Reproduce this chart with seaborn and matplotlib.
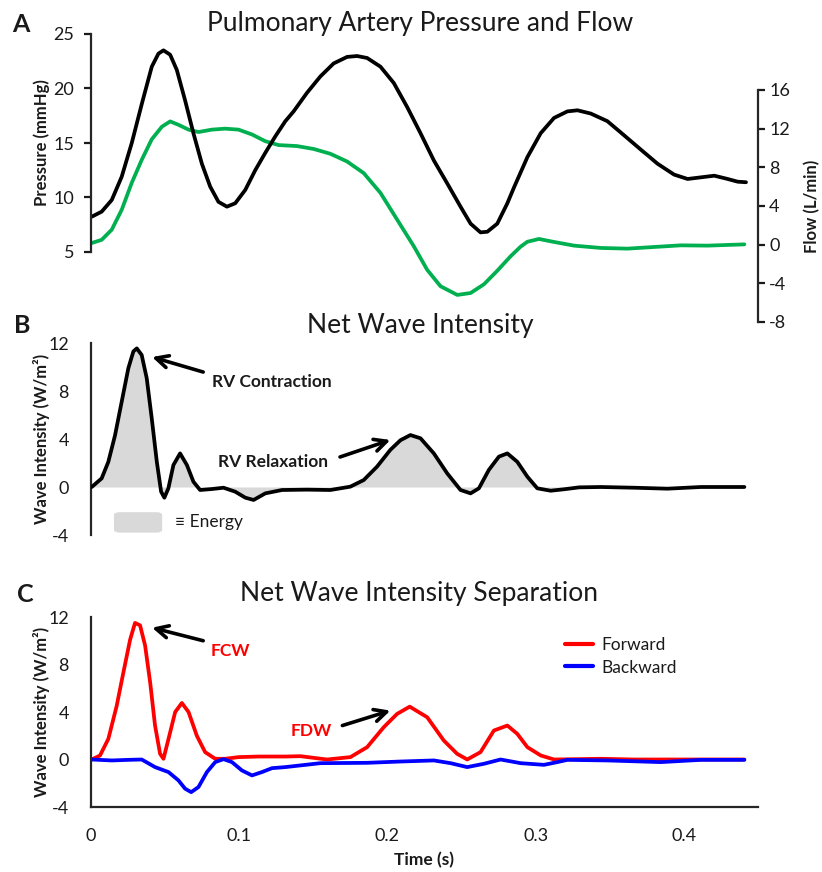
import numpy as np
import pandas as pd
import matplotlib
matplotlib.use("Agg")
import matplotlib.pyplot as plt
import seaborn as sns
from matplotlib.patches import FancyBboxPatch

# ---------------- data ----------------
t_pressure = [0.0005, 0.0072, 0.0140, 0.0207, 0.0275, 0.0343, 0.0410, 0.0455, 0.0489, 0.0534,
              0.0579, 0.0635, 0.0691, 0.0748, 0.0804, 0.0860, 0.0917, 0.0973, 0.1041, 0.1108,
              0.1176, 0.1243, 0.1311, 0.1367, 0.1457, 0.1547, 0.1637, 0.1728, 0.1795, 0.1863,
              0.1953, 0.2043, 0.2133, 0.2223, 0.2313, 0.2403, 0.2493, 0.2561, 0.2628, 0.2674,
              0.2741, 0.2809, 0.2853, 0.2944, 0.3034, 0.3124, 0.3214, 0.3282, 0.3372, 0.3484,
              0.3597, 0.3709, 0.3822, 0.3934, 0.4025, 0.4115, 0.4205, 0.4295, 0.4363, 0.4419]
pressure = [8.24, 8.7, 9.77, 11.9, 15.0, 18.6, 22.0, 23.2, 23.5, 23.1,
            21.7, 18.9, 15.9, 13.1, 11.0, 9.6, 9.16, 9.47, 10.7, 12.5,
            14.1, 15.6, 17.0, 17.9, 19.6, 21.1, 22.3, 22.9, 22.98, 22.8,
            22.0, 20.5, 18.3, 15.9, 13.4, 11.3, 9.16, 7.6, 6.8, 6.86,
            7.6, 9.47, 10.9, 13.7, 15.9, 17.3, 17.9, 18.0, 17.7, 17.0,
            15.7, 14.4, 13.1, 12.1, 11.7, 11.85, 12.0, 11.7, 11.45, 11.4]

t_flow = [0.0005, 0.0072, 0.0140, 0.0207, 0.0275, 0.0343, 0.0410, 0.0478, 0.0534, 0.0590,
          0.0658, 0.0725, 0.0816, 0.0905, 0.0995, 0.1086, 0.1176, 0.1266, 0.1389, 0.1502,
          0.1615, 0.1728, 0.1840, 0.1953, 0.2065, 0.2178, 0.2268, 0.2358, 0.2471, 0.2561,
          0.2651, 0.2741, 0.2831, 0.2899, 0.2944, 0.3022, 0.3124, 0.3259, 0.3439, 0.3620,
          0.3799, 0.3980, 0.4160, 0.4408]
flow = [0.17, 0.5, 1.55, 3.6, 6.4, 8.8, 10.9, 12.2, 12.75, 12.4,
        11.9, 11.65, 11.9, 12.0, 11.9, 11.4, 10.7, 10.3, 10.2, 9.9,
        9.4, 8.6, 7.4, 5.35, 2.6, -0.17, -2.6, -4.3, -5.2, -5.0,
        -4.1, -2.7, -1.2, -0.2, 0.3, 0.59, 0.28, -0.1, -0.34, -0.41,
        -0.24, -0.07, -0.1, 0.03]

t_net = [0.0005, 0.0072, 0.0117, 0.0162, 0.0207, 0.0252, 0.0286, 0.0309, 0.0342, 0.0376,
         0.0410, 0.0444, 0.0473, 0.0495, 0.0522, 0.0556, 0.0601, 0.0647, 0.0691, 0.0736,
         0.0815, 0.0894, 0.0973, 0.1041, 0.1097, 0.1176, 0.1289, 0.1457, 0.1615, 0.1750,
         0.1840, 0.1930, 0.2020, 0.2088, 0.2155, 0.2223, 0.2313, 0.2403, 0.2493, 0.2561,
         0.2617, 0.2684, 0.2752, 0.2809, 0.2876, 0.2944, 0.3011, 0.3101, 0.3191, 0.3293,
         0.3439, 0.3664, 0.3889, 0.4115, 0.4408]
net_intensity = [0.0, 0.72, 2.1, 4.3, 7.1, 9.9, 11.3, 11.55, 11.0, 9.06,
                 5.7, 2.1, -0.39, -0.89, -0.11, 1.83, 2.8, 1.83, 0.44, -0.25,
                 -0.17, -0.06, -0.39, -0.89, -1.08, -0.53, -0.25, -0.22, -0.25, 0.03,
                 0.58, 1.7, 3.1, 3.9, 4.33, 4.06, 2.8, 1.14, -0.25, -0.53,
                 -0.11, 1.42, 2.53, 2.8, 2.1, 0.86, -0.11, -0.31, -0.19, -0.03,
                 0.0, -0.06, -0.14, 0.0, 0.0]

t_forward = [0.0005, 0.0061, 0.0117, 0.0173, 0.0218, 0.0264, 0.0297, 0.0331, 0.0365, 0.0399,
             0.0432, 0.0466, 0.0489, 0.0523, 0.0568, 0.0613, 0.0658, 0.0714, 0.0770, 0.0838,
             0.0905, 0.0995, 0.1131, 0.1311, 0.1412, 0.1592, 0.1750, 0.1863, 0.1975, 0.2065,
             0.2150, 0.2268, 0.2380, 0.2470, 0.2538, 0.2628, 0.2718, 0.2809, 0.2876, 0.2944,
             0.3034, 0.3124, 0.3439, 0.3664, 0.3889, 0.4408]
forward = [0.0, 0.34, 1.74, 4.5, 7.3, 10.1, 11.5, 11.3, 9.6, 6.5,
           2.86, 0.48, 0.06, 1.74, 4.0, 4.76, 4.0, 2.0, 0.62, 0.06,
           0.06, 0.2, 0.25, 0.25, 0.28, 0.0, 0.2, 1.04, 2.72, 3.84,
           4.45, 3.56, 1.6, 0.48, 0.0, 0.62, 2.44, 2.86, 2.16, 1.04,
           0.34, 0.0, 0.06, 0.0, 0.0, 0.0]

t_backward = [0.0005, 0.0140, 0.0252, 0.0342, 0.0432, 0.0523, 0.0590, 0.0635, 0.0676, 0.0725,
              0.0782, 0.0838, 0.0894, 0.0951, 0.1018, 0.1086, 0.1153, 0.1221, 0.1311, 0.1547,
              0.1862, 0.2088, 0.2313, 0.2426, 0.2538, 0.2651, 0.2763, 0.2899, 0.3056, 0.3146,
              0.3214, 0.3484, 0.3844, 0.4115, 0.4408]
backward = [0.0, -0.08, -0.03, 0.0, -0.64, -1.06, -1.76, -2.46, -2.75, -2.32,
            -1.06, -0.22, 0.03, -0.22, -0.92, -1.34, -1.06, -0.73, -0.64, -0.31,
            -0.28, -0.17, -0.08, -0.31, -0.64, -0.36, 0.0, -0.31, -0.45, -0.22,
            -0.03, -0.08, -0.22, -0.03, -0.03]

time_ticks = [0, 0.1, 0.2, 0.3, 0.4]
time_ticklabels = ["0", "0.1", "0.2", "0.3", "0.4"]
pressure_ticks = [5, 10, 15, 20, 25]
flow_ticks = [-8, -4, 0, 4, 8, 12, 16]
wi_ticks = [-4, 0, 4, 8, 12]

# ---------------- style ----------------
sns.set_style("white")
FONT = ["Lato", "DejaVu Sans"]
plt.rcParams["font.family"] = FONT
plt.rcParams["axes.linewidth"] = 1.6
plt.rcParams["axes.unicode_minus"] = False
TXT = "#1a1a1a"

W, H = 822, 872
fig = plt.figure(figsize=(W / 100, H / 100), dpi=100)


def fx(px):
    return px / W


def fy(py):
    return 1 - py / H


def axes_rect(top, bottom):
    return [fx(91), fy(bottom), fx(758) - fx(91), (bottom - top) / H]


LW = 2.7
GREEN = "#00B050"
RED = "#FF0000"
BLUE = "#0000FF"
TICKSIZE = 13
LABSIZE = 12
TITLESIZE = 19
line_kw = dict(solid_joinstyle="round", solid_capstyle="round")


def style_ticks(ax, pad):
    ax.tick_params(axis="both", direction="out", length=5, width=1.6,
                   labelsize=TICKSIZE, colors=TXT, pad=pad)

# ---------------- Panel A ----------------
axA = fig.add_axes(axes_rect(34, 322))
dfP = pd.DataFrame({"t": t_pressure, "p": pressure})
sns.lineplot(data=dfP, x="t", y="p", ax=axA, color="black", lw=LW, sort=False, **line_kw)
axA.set_xlim(0, 0.45)
axA.set_ylim(25 - 288 / 10.9, 25)
axA.set_yticks(pressure_ticks)
axA.set_xticks([])
for s in ["top", "right", "bottom"]:
    axA.spines[s].set_visible(False)
axA.spines["left"].set_bounds(5, 25)
axA.set_xlabel("")
axA.set_ylabel("Pressure (mmHg)", fontsize=LABSIZE, fontweight="bold", color=TXT)
axA.yaxis.set_label_coords((50 - 91) / 667, (322 - 143) / 288)
style_ticks(axA, 7)

axA2 = axA.twinx()
dfF = pd.DataFrame({"t": t_flow, "f": flow})
sns.lineplot(data=dfF, x="t", y="f", ax=axA2, color=GREEN, lw=LW, sort=False, **line_kw)
axA2.set_ylim(-8, 16 + 56 / 9.67)
axA2.set_yticks(flow_ticks)
for s in ["top", "left", "bottom"]:
    axA2.spines[s].set_visible(False)
axA2.spines["right"].set_bounds(-8, 16)
axA2.set_ylabel("Flow (L/min)", fontsize=LABSIZE, fontweight="bold", color=TXT, rotation=90)
axA2.yaxis.set_label_coords((804 - 91) / 667, (322 - 206) / 288)
axA2.set_xlabel("")
style_ticks(axA2, 3)
axA.set_zorder(axA2.get_zorder() + 1)
axA.patch.set_visible(False)

# ---------------- Panel B ----------------
axB = fig.add_axes(axes_rect(343, 535))
axB.fill_between(t_net, net_intensity, 0, color="#D9D9D9", lw=0, zorder=1)
dfN = pd.DataFrame({"t": t_net, "w": net_intensity})
sns.lineplot(data=dfN, x="t", y="w", ax=axB, color="black", lw=LW, sort=False, zorder=3,
             **line_kw)
axB.set_xlim(0, 0.45)
axB.set_ylim(-4, 12)
axB.set_yticks(wi_ticks)
axB.set_xticks([])
for s in ["top", "right", "bottom"]:
    axB.spines[s].set_visible(False)
axB.set_xlabel("")
axB.set_ylabel("Wave Intensity (W/m²)", fontsize=LABSIZE, fontweight="bold", color=TXT)
axB.yaxis.set_label_coords((50 - 91) / 667, 0.5)
style_ticks(axB, 11)

box = FancyBboxPatch((0.0155, -3.8), 0.0325, 1.7,
                     boxstyle="round,pad=0,rounding_size=0.004",
                     mutation_aspect=60, facecolor="#D9D9D9", edgecolor="none",
                     transform=axB.transData, zorder=2)
axB.add_patch(box)
axB.text(0.057, -2.95, "≡ Energy", fontsize=12.5, color=TXT, va="center", ha="left",
         family=FONT)

arrow_kw = dict(arrowstyle="->", lw=2.6, color="black", mutation_scale=22,
                shrinkA=0, shrinkB=0)
axB.annotate("", xy=(0.0412, 10.83), xytext=(0.0757, 9.58), arrowprops=arrow_kw)
axB.text(0.1223, 8.75, "RV Contraction", fontsize=12.5, fontweight="bold", color=TXT,
         ha="center", va="center")
axB.annotate("", xy=(0.202, 3.92), xytext=(0.168, 2.5), arrowprops=arrow_kw)
axB.text(0.123, 2.08, "RV Relaxation", fontsize=12.5, fontweight="bold", color=TXT,
         ha="center", va="center")

# ---------------- Panel C ----------------
axC = fig.add_axes(axes_rect(617, 807))
dfC = pd.concat([
    pd.DataFrame({"t": t_forward, "w": forward, "dir": "Forward"}),
    pd.DataFrame({"t": t_backward, "w": backward, "dir": "Backward"}),
])
sns.lineplot(data=dfC, x="t", y="w", hue="dir", ax=axC, lw=LW, sort=False,
             palette={"Forward": RED, "Backward": BLUE}, hue_order=["Forward", "Backward"],
             **line_kw)
axC.set_xlim(0, 0.45)
axC.set_ylim(-4, 12)
axC.set_yticks(wi_ticks)
axC.set_xticks(time_ticks)
axC.set_xticklabels(time_ticklabels)
for s in ["top", "right"]:
    axC.spines[s].set_visible(False)
axC.set_xlabel("")
axC.set_ylabel("Wave Intensity (W/m²)", fontsize=LABSIZE, fontweight="bold", color=TXT)
axC.yaxis.set_label_coords((50 - 91) / 667, 0.5)
style_ticks(axC, 11)
axC.tick_params(axis="x", pad=10)
handles, labels = axC.get_legend_handles_labels()
for h in handles:
    h.set_linewidth(3)
axC.legend(handles, labels, frameon=False, loc="center left",
           bbox_to_anchor=(fx(565), fy(656.5)), bbox_transform=fig.transFigure,
           borderpad=0, borderaxespad=0, handlelength=1.6, handletextpad=0.5,
           labelspacing=0.35, fontsize=12.5)
for txt in axC.get_legend().get_texts():
    txt.set_color(TXT)

axC.annotate("", xy=(0.0412, 11.1), xytext=(0.0757, 10.0), arrowprops=arrow_kw)
axC.text(0.094, 9.16, "FCW", fontsize=12.5, fontweight="bold", color=RED,
         ha="center", va="center")
axC.annotate("", xy=(0.202, 4.12), xytext=(0.1696, 2.86), arrowprops=arrow_kw)
axC.text(0.1486, 2.44, "FDW", fontsize=12.5, fontweight="bold", color=RED,
         ha="center", va="center")

fig.text(fx(424), fy(860), "Time (s)", fontsize=12.5, fontweight="bold", color=TXT,
         ha="center", va="center")

# ---------------- titles and panel letters ----------------
fig.text(fx(420), fy(23), "Pulmonary Artery Pressure and Flow", fontsize=TITLESIZE, color=TXT,
         ha="center", va="center")
fig.text(fx(420), fy(325), "Net Wave Intensity", fontsize=TITLESIZE, color=TXT,
         ha="center", va="center")
fig.text(fx(419), fy(594), "Net Wave Intensity Separation", fontsize=TITLESIZE, color=TXT,
         ha="center", va="center")
for letter, x, y in [("A", 21, 24), ("B", 22, 325), ("C", 25, 594)]:
    fig.text(fx(x), fy(y), letter, fontsize=18, fontweight="bold", color=TXT,
             ha="center", va="center")

fig.savefig("out.png", dpi=100)
